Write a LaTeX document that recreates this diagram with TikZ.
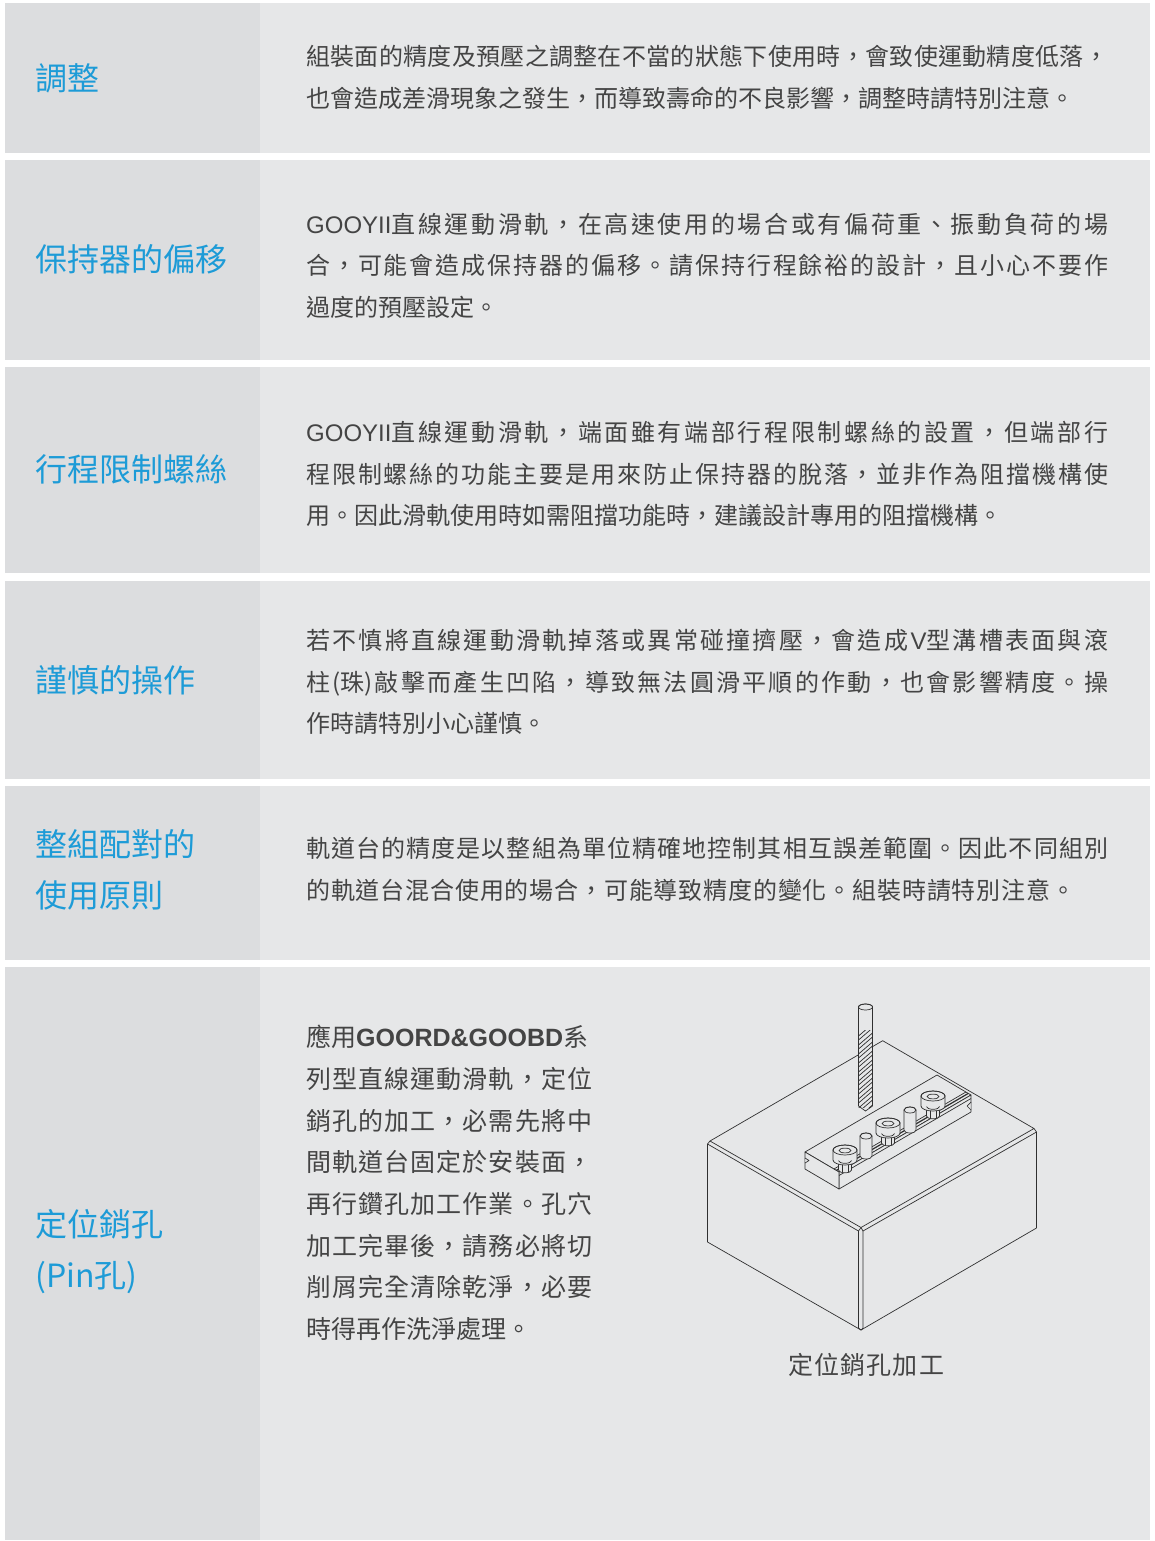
\documentclass[tikz,border=0pt]{standalone}
\usepackage{fontspec}
\setmainfont{Noto Sans CJK TC}
\newfontfamily\latinfont{Liberation Sans}
\usepackage{tikz}
\usetikzlibrary{positioning,calc}
\definecolor{labgray}{HTML}{DCDDDF}
\definecolor{txtgray}{HTML}{E6E7E8}
\definecolor{titleblue}{HTML}{1D9BD7}
\definecolor{bodyink}{HTML}{444444}
\definecolor{lineink}{HTML}{303030}
\makeatletter
\newcommand\justline[2][802pt]{\makebox[#1][s]{\let\jl@sep\relax\@tfor\jl@c:=#2\do{\jl@sep\jl@c\let\jl@sep\hfill}}}
\makeatother
\tikzset{
  mylabel/.style = {anchor=west, inner sep=0pt, align=left, text=titleblue, font=\fontsize{32}{51}\selectfont},
  mytext/.style = {anchor=west, inner sep=0pt, align=left, text=bodyink, font=\fontsize{24}{41.5}\selectfont},
  myline/.style = {draw=lineink, line width=0.7pt, line join=round},
  myface/.style = {myline, fill=txtgray},
  mypin/.pic = {
    \path[myface] (-6,0) -- (-6,20) arc[start angle=180, end angle=0, x radius=6, y radius=3]
      -- (6,0) arc[start angle=0, end angle=-180, x radius=6, y radius=3] -- cycle;
    \draw[myline] (0,0) ellipse[x radius=6, y radius=3];
  },
  mybolt/.pic = {
    \path[myface] (-6.5,9) -- (-6.5,20) arc[start angle=180, end angle=0, x radius=6.5, y radius=2.8] -- (6.5,9) -- cycle;
    \draw[myline] (-3,12) -- (-3,21.5) (3,12) -- (3,21.5);
    \path[myface] (-12,0) -- (-12,10) arc[start angle=180, end angle=0, x radius=12, y radius=5]
      -- (12,0) arc[start angle=0, end angle=-180, x radius=12, y radius=5] -- cycle;
    \draw[myline] (0,0) ellipse[x radius=12, y radius=5];
    \draw[myline] (0,0.5) ellipse[x radius=6, y radius=2.4];
    \draw[myline] (-6.5,10.5) arc[start angle=180, end angle=0, x radius=6.5, y radius=2.8];
  },
}

\begin{document}
\begin{tikzpicture}[x=1pt, y=-1pt]
\fill[white] (0,0) rectangle (1154,1541);
\foreach \ytop/\ybot in {3/153, 160/360, 367/573, 581/779, 786/960, 967/1540} {
  \fill[labgray] (5,\ytop) rectangle (260,\ybot);
  \fill[txtgray] (260,\ytop) rectangle (1150,\ybot);
}

\node[mylabel] (adjust) at (35,78) {調整};
\node[mytext] (adjusttxt) at (306,77.5) {\justline{組裝面的精度及預壓之調整在不當的狀態下使用時，會致使運動精度低落，}\\也會造成差滑現象之發生，而導致壽命的不良影響，調整時請特別注意。};

\node[mylabel] (retainer) at (35,259) {保持器的偏移};
\node[mytext] (retainertxt) at (306,265.5) {\justline{{{\latinfont GOOYII}直}線運動滑軌，在高速使用的場合或有偏荷重、振動負荷的場}\\\justline{合，可能會造成保持器的偏移。請保持行程餘裕的設計，且小心不要作}\\過度的預壓設定。};

\node[mylabel] (stopper) at (35,469) {行程限制螺絲};
\node[mytext] (stoppertxt) at (306,474) {\justline{{{\latinfont GOOYII}直}線運動滑軌，端面雖有端部行程限制螺絲的設置，但端部行}\\\justline{程限制螺絲的功能主要是用來防止保持器的脫落，並非作為阻擋機構使}\\用。因此滑軌使用時如需阻擋功能時，建議設計專用的阻擋機構。};

\node[mylabel] (handling) at (35,680) {謹慎的操作};
\node[mytext] (handlingtxt) at (306,682) {\justline{若不慎將直線運動滑軌掉落或異常碰撞擠壓，會造成{{\latinfont V}型}溝槽表面與滾}\\\justline{柱{(珠)}敲擊而產生凹陷，導致無法圓滑平順的作動，也會影響精度。操}\\作時請特別小心謹慎。};

\node[mylabel] (matched) at (35,870) {整組配對的\\使用原則};
\node[mytext] (matchedtxt) at (306,869.5) {\justline{軌道台的精度是以整組為單位精確地控制其相互誤差範圍。因此不同組別}\\\justline[769pt]{的軌道台混合使用的場合，可能導致精度的變化。組裝時請特別注意。}};

\node[mylabel] (pinhole) at (35,1252) {定位銷孔\\(Pin孔)};
\node[mytext, font=\fontsize{25}{41.7}\selectfont] (pinholetxt) at (306,1183) {應用{\latinfont\bfseries GOORD\&GOOBD}系\\\justline[286pt]{列型直線運動滑軌，定位}\\\justline[286pt]{銷孔的加工，必需先將中}\\\justline[286pt]{間軌道台固定於安裝面，}\\\justline[286pt]{再行鑽孔加工作業。孔穴}\\\justline[286pt]{加工完畢後，請務必將切}\\\justline[286pt]{削屑完全清除乾淨，必要}\\時得再作洗淨處理。};

% block
\coordinate (bk) at (882.7,1040.7);
\coordinate (tl) at (710,1141);
\coordinate (tf) at (861,1227.5);
\coordinate (tr) at (1034,1128.5);
\draw[myline] (bk) -- (tl) -- (tf) -- (tr) -- cycle;
\draw[myline] (tl) -- (707.5,1144) -- (858.5,1231) -- (tf) -- (863,1231) -- (1036.5,1132) -- (tr);
\draw[myline] (707.5,1144) -- (707.5,1242) -- (861,1330) -- (1036.5,1228) -- (1036.5,1132);
\draw[myline] (858.5,1231) -- (858.5,1328) -- (861,1330) -- (863,1328) -- (863,1231);

% rail
\coordinate (ra) at (805,1152);
\coordinate (rb) at (937,1075);
\coordinate (rc) at (971,1095);
\coordinate (rd) at (839,1172);
\path[myface] (ra) -- (rb) -- (rc) -- (rd) -- cycle;
\path[myface] (rd) -- (rc) -- ($(rc)+(0,17)$) -- ($(rd)+(0,17)$) -- cycle;
\path[myface] (ra) -- (rd) -- ($(rd)+(0,17)$) -- ($(ra)+(0,17)$) -- cycle;
\path[fill=txtgray] (805.4,1158) -- (809,1160.5) -- (805.4,1163) -- cycle;
\draw[myline] (805,1158) -- (809,1160.5) -- (805,1163);
\path[fill=txtgray] (970.6,1102) -- (967,1106) -- (970.6,1110) -- cycle;
\draw[myline] (971,1102) -- (967,1106) -- (971,1110);
\draw[myline] ($(rd)!0.15!(ra)$) -- ($(rc)!0.15!(rb)$);
\draw[myline] ($(rd)+(0,3.5)$) -- ($(rc)+(0,3.5)$);
\draw[myline, line width=1.2pt] ($(rd)!0.08!(ra)$) -- ($(rc)!0.08!(rb)$);

% bolts and pins
\pic at (933,1096) {mybolt};
\pic at (910,1110) {mypin};
\pic at (888,1123) {mybolt};
\pic at (866,1136) {mypin};
\pic at (845,1150) {mybolt};

% drill
\path[myface] (858.5,1007) -- (858.5,1106) -- (865.5,1111) -- (872.5,1106) -- (872.5,1007)
  arc[start angle=0, end angle=-180, x radius=7, y radius=3] -- cycle;
\draw[myline] (865.5,1007) ellipse[x radius=7, y radius=3];
\begin{scope}
  \clip (858.5,1030) rectangle (872.5,1107);
  \foreach \k in {0,...,9} {
    \draw[myline] (858.5,1036+9*\k) -- (872.5,1024+9*\k);
    \draw[myline] (858.5,1040+9*\k) -- (872.5,1028+9*\k);
  }
\end{scope}

\node[text=bodyink, font=\fontsize{25}{30}\selectfont] (drillcap) at (866,1365) {\justline[156pt]{定位銷孔加工}};
\end{tikzpicture}
\end{document}
